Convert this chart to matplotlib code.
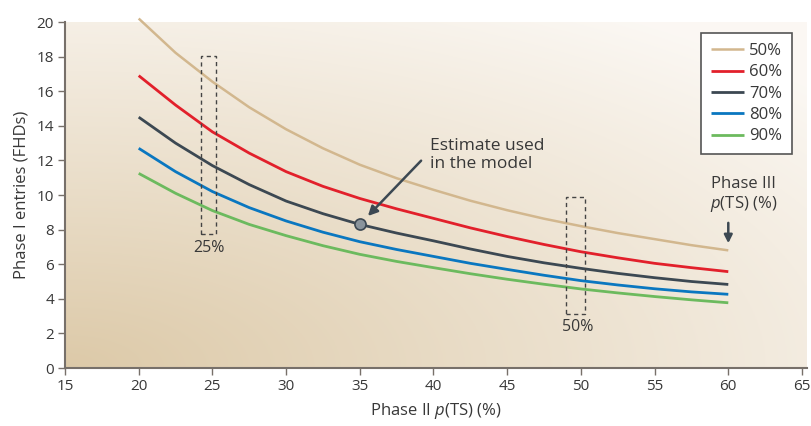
import numpy as np
import matplotlib
matplotlib.use("Agg")
import matplotlib.pyplot as plt

plt.rcParams['font.family'] = ['Open Sans', 'DejaVu Sans']
plt.rcParams['mathtext.fontset'] = 'custom'
plt.rcParams['mathtext.it'] = 'Open Sans:italic'
plt.rcParams['mathtext.rm'] = 'Open Sans'

phase2 = [20, 22.5, 25, 27.5, 30, 32.5, 35, 37.5, 40, 42.5, 45, 47.5, 50, 52.5, 55, 57.5, 60]
p50 = [20.2, 18.22, 16.55, 15.07, 13.8, 12.7, 11.75, 10.97, 10.3, 9.67, 9.12, 8.63, 8.2, 7.8, 7.45, 7.1, 6.8]
p60 = [16.9, 15.2, 13.65, 12.42, 11.35, 10.5, 9.8, 9.2, 8.65, 8.1, 7.6, 7.14, 6.72, 6.37, 6.05, 5.8, 5.57]
p70 = [14.5, 13.0, 11.7, 10.6, 9.65, 8.92, 8.3, 7.8, 7.35, 6.88, 6.45, 6.08, 5.76, 5.47, 5.22, 5.0, 4.83]
p80 = [12.7, 11.35, 10.2, 9.27, 8.5, 7.85, 7.3, 6.85, 6.45, 6.05, 5.7, 5.36, 5.05, 4.8, 4.58, 4.4, 4.26]
p90 = [11.25, 10.1, 9.1, 8.3, 7.65, 7.07, 6.57, 6.16, 5.8, 5.45, 5.13, 4.84, 4.57, 4.34, 4.13, 3.94, 3.77]
labels = ['50%', '60%', '70%', '80%', '90%']
colors = ['#d2b78e', '#e2202b', '#3c4852', '#0a77c0', '#6cba5e']
estimate = (35, 8.3)

fig = plt.figure(figsize=(8.11, 4.26), dpi=100)
ax = fig.add_axes([65/811, 1-368/426, 742/811, 346/426])
ax.set_xlim(15, 65.34)
ax.set_ylim(0, 20)

# background gradient, tan at bottom-left to near white at top-right
u, v = np.meshgrid(np.linspace(0, 1, 300), np.linspace(0, 1, 300))
t = np.clip(np.sqrt((u*1.0)**2 + (v*1.1)**2) / 1.35, 0, 1)
c0 = np.array([0.865, 0.79, 0.66])
c1 = np.array([0.985, 0.972, 0.955])
img = c0[None, None, :] * (1 - t[..., None]) + c1[None, None, :] * t[..., None]
ax.imshow(img, origin='lower', extent=[0, 1, 0, 1], transform=ax.transAxes, aspect='auto', zorder=0)

for ys, lab, col in zip([p50, p60, p70, p80, p90], labels, colors):
    lw = 1.8 if lab == '50%' else 2.0
    ax.plot(phase2, ys, color=col, lw=lw, label=lab, zorder=3, solid_capstyle='butt',
            solid_joinstyle='round', clip_on=False)

ax.plot(*estimate, 'o', ms=8, mfc='#8a949c', mec='#3c4852', mew=1.2, zorder=5)

# dashed boxes
ax.add_patch(plt.Rectangle((24.25, 7.75), 1.0, 10.3, fill=False, ls=(0, (3, 2.5)), lw=1.0, ec='#444444', zorder=4))
ax.add_patch(plt.Rectangle((49.0, 3.12), 1.3, 6.75, fill=False, ls=(0, (3, 2.5)), lw=1.0, ec='#444444', zorder=4))
ax.text(24.77, 6.94, '25%', ha='center', va='center', fontsize=11.5, color='#383838')
ax.text(49.8, 2.35, '50%', ha='center', va='center', fontsize=11.5, color='#383838')

ax.annotate('', xy=(35.42, 8.67), xytext=(39.29, 12.1),
            arrowprops=dict(arrowstyle='-|>', color='#3c4852', lw=1.8, mutation_scale=14), zorder=6)
ax.text(39.76, 12.3, 'Estimate used\nin the model', ha='left', va='center', fontsize=12.5, color='#383838', linespacing=1.15)

ax.text(61.06, 10.02, 'Phase III\n$\\it{p}$(TS) (%)', ha='center', va='center', fontsize=12, color='#383838', linespacing=1.15)
ax.annotate('', xy=(60.0, 7.05), xytext=(60.0, 8.55),
            arrowprops=dict(arrowstyle='-|>', color='#3c4852', lw=1.8, mutation_scale=12), zorder=6)

leg = ax.legend(loc='upper right', bbox_to_anchor=(0.98, 0.968), fontsize=12, frameon=True, fancybox=False,
                handlelength=2.0, handletextpad=0.3, labelspacing=0.32, borderpad=0.6, borderaxespad=0)
leg.get_frame().set_edgecolor('#555555')
leg.get_frame().set_linewidth(1.2)
leg.get_frame().set_facecolor('white')
leg.get_frame().set_alpha(1)
for t_ in leg.get_texts():
    t_.set_color('#383838')

ax.spines['top'].set_visible(False)
ax.spines['right'].set_visible(False)
for s in ['left', 'bottom']:
    ax.spines[s].set_color('#77706a')
    ax.spines[s].set_linewidth(1.5)
    ax.spines[s].set_zorder(7)
ax.set_xticks(range(15, 66, 5))
ax.set_yticks(range(0, 21, 2))
ax.tick_params(direction='out', length=5, width=1.0, color='#77706a', labelsize=11, labelcolor='#383838', pad=3)
ax.set_xlabel('Phase II $\\it{p}$(TS) (%)', fontsize=12, color='#383838', labelpad=5)
ax.set_ylabel('Phase I entries (FHDs)', fontsize=12, color='#383838', labelpad=5)

fig.savefig('out.png', dpi=100)
